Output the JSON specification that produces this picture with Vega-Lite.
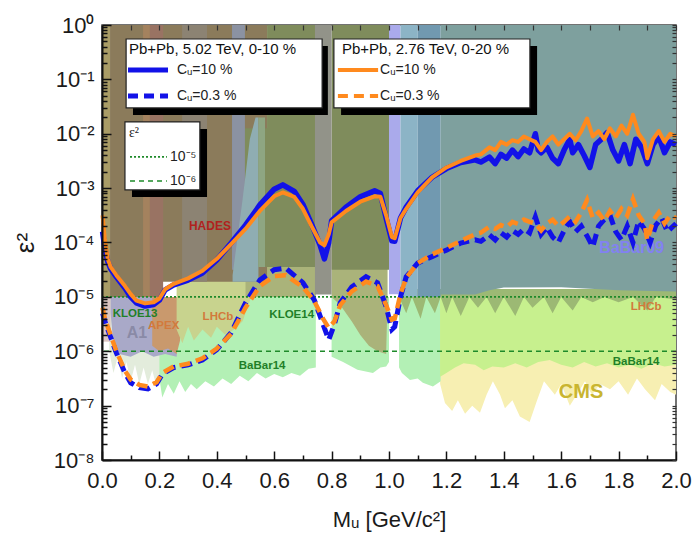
{
"$schema": "https://vega.github.io/schema/vega-lite/v6.json",
"width": 574, "height": 435,
"autosize": {"type": "none"},
"padding": {"left": 102, "top": 25, "right": 20, "bottom": 80},
"background": "white",
"config": {"view": {"stroke": "#444", "strokeWidth": 1.5}, "font": "Liberation Sans"},
"resolve": {"axis": {"x": "independent", "y": "independent"}},
"datasets": {
"reg": [
{"r":"cms","x":1.178,"lo":2.51e-7,"hi":1e-5},{"r":"cms","x":1.195,"lo":1.12e-7,"hi":1e-5},{"r":"cms","x":1.22,"lo":7.94e-8,"hi":1e-5},{"r":"cms","x":1.24,"lo":1.26e-7,"hi":1e-5},{"r":"cms","x":1.265,"lo":7.08e-8,"hi":1e-5},{"r":"cms","x":1.29,"lo":1e-7,"hi":1e-5},{"r":"cms","x":1.317,"lo":7.41e-8,"hi":1e-5},{"r":"cms","x":1.34,"lo":1.58e-7,"hi":1e-5},{"r":"cms","x":1.362,"lo":2.82e-7,"hi":1e-5},{"r":"cms","x":1.387,"lo":1.58e-7,"hi":1e-5},{"r":"cms","x":1.404,"lo":8.91e-8,"hi":1e-5},{"r":"cms","x":1.43,"lo":1.26e-7,"hi":1e-5},{"r":"cms","x":1.456,"lo":6.31e-8,"hi":1e-5},{"r":"cms","x":1.49,"lo":5.01e-8,"hi":1e-5},{"r":"cms","x":1.516,"lo":1.26e-7,"hi":1e-5},{"r":"cms","x":1.54,"lo":2.82e-7,"hi":1e-5},{"r":"cms","x":1.578,"lo":1.58e-7,"hi":1e-5},{"r":"cms","x":1.6,"lo":2.51e-7,"hi":1e-5},{"r":"cms","x":1.63,"lo":1e-7,"hi":1e-5},{"r":"cms","x":1.66,"lo":1.78e-7,"hi":1e-5},{"r":"cms","x":1.683,"lo":2.82e-7,"hi":1e-5},{"r":"cms","x":1.707,"lo":1.58e-7,"hi":1e-5},{"r":"cms","x":1.735,"lo":2.51e-7,"hi":1e-5},{"r":"cms","x":1.77,"lo":2.0e-7,"hi":1e-5},{"r":"cms","x":1.8,"lo":2.82e-7,"hi":1e-5},{"r":"cms","x":1.833,"lo":1.58e-7,"hi":1e-5},{"r":"cms","x":1.864,"lo":3.16e-7,"hi":1e-5},{"r":"cms","x":1.892,"lo":2.0e-7,"hi":1e-5},{"r":"cms","x":1.927,"lo":1.26e-7,"hi":1e-5},{"r":"cms","x":1.95,"lo":2.51e-7,"hi":1e-5},{"r":"cms","x":1.98,"lo":1.78e-7,"hi":1e-5},{"r":"cms","x":2.0,"lo":1.58e-7,"hi":1e-5},
{"r":"pale","x":0.025,"lo":1e-6,"hi":1e-5},{"r":"pale","x":0.04,"lo":3.98e-7,"hi":1e-5},{"r":"pale","x":0.055,"lo":7.94e-7,"hi":1e-5},{"r":"pale","x":0.07,"lo":3.16e-7,"hi":1e-5},{"r":"pale","x":0.085,"lo":6.31e-7,"hi":1e-5},{"r":"pale","x":0.1,"lo":2.82e-7,"hi":1e-5},{"r":"pale","x":0.115,"lo":5.62e-7,"hi":1e-5},{"r":"pale","x":0.13,"lo":2.51e-7,"hi":1e-5},{"r":"pale","x":0.145,"lo":5.01e-7,"hi":1e-5},{"r":"pale","x":0.16,"lo":2.51e-7,"hi":1e-5},{"r":"pale","x":0.175,"lo":4.47e-7,"hi":1e-5},{"r":"pale","x":0.19,"lo":2.24e-7,"hi":1e-5},{"r":"pale","x":0.205,"lo":3.16e-7,"hi":1e-5},
{"r":"bb14a","x":0.2,"lo":3.16e-7,"hi":1e-5},{"r":"bb14a","x":0.21,"lo":1.41e-7,"hi":1e-5},{"r":"bb14a","x":0.23,"lo":2.51e-7,"hi":1e-5},{"r":"bb14a","x":0.25,"lo":1.66e-7,"hi":1e-5},{"r":"bb14a","x":0.27,"lo":2.82e-7,"hi":1e-5},{"r":"bb14a","x":0.29,"lo":1.78e-7,"hi":1e-5},{"r":"bb14a","x":0.31,"lo":2.51e-7,"hi":1e-5},{"r":"bb14a","x":0.33,"lo":2.0e-7,"hi":1e-5},{"r":"bb14a","x":0.36,"lo":2.82e-7,"hi":1e-5},{"r":"bb14a","x":0.39,"lo":2.24e-7,"hi":1e-5},{"r":"bb14a","x":0.42,"lo":3.16e-7,"hi":1e-5},{"r":"bb14a","x":0.45,"lo":2.51e-7,"hi":1e-5},{"r":"bb14a","x":0.48,"lo":3.55e-7,"hi":1e-5},{"r":"bb14a","x":0.51,"lo":2.82e-7,"hi":1e-5},{"r":"bb14a","x":0.54,"lo":3.98e-7,"hi":1e-5},{"r":"bb14a","x":0.57,"lo":3.16e-7,"hi":1e-5},{"r":"bb14a","x":0.6,"lo":3.8e-7,"hi":1e-5},{"r":"bb14a","x":0.63,"lo":3.31e-7,"hi":1e-5},{"r":"bb14a","x":0.66,"lo":3.98e-7,"hi":1e-5},{"r":"bb14a","x":0.69,"lo":3.55e-7,"hi":1e-5},{"r":"bb14a","x":0.72,"lo":4.79e-7,"hi":1e-5},{"r":"bb14a","x":0.745,"lo":5.01e-7,"hi":1e-5},
{"r":"bb14b","x":0.8,"lo":7.94e-7,"hi":1e-5},{"r":"bb14b","x":0.84,"lo":6.31e-7,"hi":1e-5},{"r":"bb14b","x":0.89,"lo":4.57e-7,"hi":1e-5},{"r":"bb14b","x":0.944,"lo":3.98e-7,"hi":1e-5},{"r":"bb14b","x":0.97,"lo":5.01e-7,"hi":1e-5},{"r":"bb14b","x":0.99,"lo":5.25e-7,"hi":1e-5},{"r":"bb14b","x":1.0,"lo":6.31e-7,"hi":1e-5},
{"r":"bb14c","x":1.035,"lo":5.01e-7,"hi":1e-5},{"r":"bb14c","x":1.045,"lo":3.98e-7,"hi":1e-5},{"r":"bb14c","x":1.073,"lo":2.95e-7,"hi":1e-5},{"r":"bb14c","x":1.1,"lo":3.16e-7,"hi":1e-5},{"r":"bb14c","x":1.118,"lo":2.63e-7,"hi":1e-5},{"r":"bb14c","x":1.153,"lo":2.24e-7,"hi":1e-5},{"r":"bb14c","x":1.18,"lo":2.82e-7,"hi":1e-5},
{"r":"lime","x":1.178,"lo":3.39e-7,"hi":1e-5},{"r":"lime","x":1.2,"lo":3.98e-7,"hi":1e-5},{"r":"lime","x":1.23,"lo":5.01e-7,"hi":1e-5},{"r":"lime","x":1.26,"lo":6.03e-7,"hi":1e-5},{"r":"lime","x":1.3,"lo":5.62e-7,"hi":1e-5},{"r":"lime","x":1.33,"lo":4.47e-7,"hi":1e-5},{"r":"lime","x":1.36,"lo":5.25e-7,"hi":1e-5},{"r":"lime","x":1.4,"lo":5.01e-7,"hi":1e-5},{"r":"lime","x":1.44,"lo":6.03e-7,"hi":1e-5},{"r":"lime","x":1.48,"lo":5.01e-7,"hi":1e-5},{"r":"lime","x":1.52,"lo":6.31e-7,"hi":1e-5},{"r":"lime","x":1.56,"lo":6.92e-7,"hi":1e-5},{"r":"lime","x":1.6,"lo":5.62e-7,"hi":1e-5},{"r":"lime","x":1.64,"lo":5.01e-7,"hi":1e-5},{"r":"lime","x":1.68,"lo":6.31e-7,"hi":1e-5},{"r":"lime","x":1.72,"lo":5.25e-7,"hi":1e-5},{"r":"lime","x":1.76,"lo":6.03e-7,"hi":1e-5},{"r":"lime","x":1.8,"lo":5.01e-7,"hi":1e-5},{"r":"lime","x":1.84,"lo":5.62e-7,"hi":1e-5},{"r":"lime","x":1.88,"lo":4.79e-7,"hi":1e-5},{"r":"lime","x":1.92,"lo":6.03e-7,"hi":1e-5},{"r":"lime","x":1.96,"lo":5.25e-7,"hi":1e-5},{"r":"lime","x":2.0,"lo":5.62e-7,"hi":1e-5},
{"r":"pink","x":0,"lo":1.5e-6,"hi":1e-5},{"r":"pink","x":0.03,"lo":1.5e-6,"hi":1e-5},
{"r":"a1","x":0.03,"lo":5.01e-6,"hi":1e-5},{"r":"a1","x":0.04,"lo":1.26e-6,"hi":1e-5},{"r":"a1","x":0.06,"lo":8.91e-7,"hi":1e-5},{"r":"a1","x":0.1,"lo":7.94e-7,"hi":1e-5},{"r":"a1","x":0.14,"lo":1e-6,"hi":1e-5},{"r":"a1","x":0.18,"lo":7.94e-7,"hi":1e-5},{"r":"a1","x":0.22,"lo":8.91e-7,"hi":1e-5},{"r":"a1","x":0.26,"lo":7.94e-7,"hi":1e-5},{"r":"a1","x":0.27,"lo":3.16e-6,"hi":1e-5},
{"r":"apex","x":0.175,"lo":1.26e-6,"hi":1e-5},{"r":"apex","x":0.2,"lo":1e-6,"hi":1e-5},{"r":"apex","x":0.23,"lo":1.12e-6,"hi":1e-5},{"r":"apex","x":0.26,"lo":8.91e-7,"hi":1e-5},{"r":"apex","x":0.272,"lo":1.58e-6,"hi":1e-5},
{"r":"lhcbL","x":0.26,"lo":2.51e-6,"hi":2e-5},{"r":"lhcbL","x":0.28,"lo":1.41e-6,"hi":2e-5},{"r":"lhcbL","x":0.3,"lo":2.82e-6,"hi":2e-5},{"r":"lhcbL","x":0.32,"lo":1.58e-6,"hi":2e-5},{"r":"lhcbL","x":0.35,"lo":2.51e-6,"hi":2e-5},{"r":"lhcbL","x":0.38,"lo":1.78e-6,"hi":2e-5},{"r":"lhcbL","x":0.4,"lo":2.82e-6,"hi":2e-5},{"r":"lhcbL","x":0.43,"lo":2.0e-6,"hi":2e-5},{"r":"lhcbL","x":0.46,"lo":2.51e-6,"hi":2e-5},{"r":"lhcbL","x":0.49,"lo":3.55e-6,"hi":2e-5},{"r":"lhcbL","x":0.52,"lo":1e-5,"hi":2e-5},
{"r":"kloe14a","x":0.5,"lo":1e-5,"hi":1e-4},{"r":"kloe14a","x":0.745,"lo":1e-5,"hi":1e-4},
{"r":"kloe14b","x":0.8,"lo":1e-5,"hi":1e-4},{"r":"kloe14b","x":0.83,"lo":7.08e-6,"hi":1e-4},{"r":"kloe14b","x":0.87,"lo":3.55e-6,"hi":1e-4},{"r":"kloe14b","x":0.9,"lo":2.0e-6,"hi":1e-4},{"r":"kloe14b","x":0.93,"lo":1.26e-6,"hi":1e-4},{"r":"kloe14b","x":0.96,"lo":1e-6,"hi":1e-4},{"r":"kloe14b","x":0.99,"lo":8.91e-7,"hi":1e-4},{"r":"kloe14b","x":0.995,"lo":1e-5,"hi":1e-4},
{"r":"lhcbR","x":1.035,"lo":1e-5,"hi":1.4e-5},{"r":"lhcbR","x":1.06,"lo":5.01e-6,"hi":1.4e-5},{"r":"lhcbR","x":1.08,"lo":1e-5,"hi":1.4e-5},{"r":"lhcbR","x":1.11,"lo":3.98e-6,"hi":1.4e-5},{"r":"lhcbR","x":1.13,"lo":1e-5,"hi":1.4e-5},{"r":"lhcbR","x":1.16,"lo":5.01e-6,"hi":1.4e-5},{"r":"lhcbR","x":1.18,"lo":1e-5,"hi":1.4e-5},{"r":"lhcbR","x":1.2,"lo":5.01e-6,"hi":1.4e-5},{"r":"lhcbR","x":1.22,"lo":1e-5,"hi":1.4e-5},{"r":"lhcbR","x":1.25,"lo":4.47e-6,"hi":1.4e-5},{"r":"lhcbR","x":1.28,"lo":1e-5,"hi":1.4e-5},{"r":"lhcbR","x":1.31,"lo":6.31e-6,"hi":1.4e-5},{"r":"lhcbR","x":1.34,"lo":1e-5,"hi":1.4e-5},{"r":"lhcbR","x":1.37,"lo":5.01e-6,"hi":1.4e-5},{"r":"lhcbR","x":1.4,"lo":1e-5,"hi":1.4e-5},{"r":"lhcbR","x":1.44,"lo":4.47e-6,"hi":1.4e-5},{"r":"lhcbR","x":1.47,"lo":1e-5,"hi":1.4e-5},{"r":"lhcbR","x":1.5,"lo":6.31e-6,"hi":1.4e-5},{"r":"lhcbR","x":1.54,"lo":1e-5,"hi":1.4e-5},{"r":"lhcbR","x":1.57,"lo":5.01e-6,"hi":1.4e-5},{"r":"lhcbR","x":1.6,"lo":1e-5,"hi":1.4e-5},{"r":"lhcbR","x":1.64,"lo":5.62e-6,"hi":1.4e-5},{"r":"lhcbR","x":1.67,"lo":1e-5,"hi":1.4e-5},{"r":"lhcbR","x":1.71,"lo":7.94e-6,"hi":1.4e-5},{"r":"lhcbR","x":1.75,"lo":1e-5,"hi":1.4e-5},{"r":"lhcbR","x":1.8,"lo":7.94e-6,"hi":1.4e-5},{"r":"lhcbR","x":1.85,"lo":1e-5,"hi":1.4e-5},{"r":"lhcbR","x":1.9,"lo":5.62e-6,"hi":1.4e-5},{"r":"lhcbR","x":1.93,"lo":1e-5,"hi":1.4e-5},{"r":"lhcbR","x":2.0,"lo":8.91e-6,"hi":1.4e-5},
{"r":"tstrip","x":0,"lo":1e-5,"hi":1},{"r":"tstrip","x":0.028,"lo":1e-5,"hi":1},
{"r":"tbrown","x":0.028,"lo":1e-5,"hi":1},{"r":"tbrown","x":0.205,"lo":1e-5,"hi":1},{"r":"tbrown","x":0.21,"lo":1.9e-5,"hi":1},{"r":"tbrown","x":0.575,"lo":1.9e-5,"hi":1},
{"r":"torange","x":0.143,"lo":1e-5,"hi":1},{"r":"torange","x":0.167,"lo":1e-5,"hi":1},
{"r":"tred","x":0.167,"lo":1e-5,"hi":1},{"r":"tred","x":0.213,"lo":1e-5,"hi":1},
{"r":"tgray","x":0.279,"lo":1.9e-5,"hi":1},{"r":"tgray","x":0.366,"lo":1.9e-5,"hi":1},
{"r":"tolivea","x":0.498,"lo":3.55e-5,"hi":1.26e-2},{"r":"tolivea","x":0.575,"lo":3.55e-5,"hi":1.26e-2},{"r":"tolivea","x":0.5751,"lo":3.55e-5,"hi":1},{"r":"tolivea","x":0.745,"lo":3.55e-5,"hi":1},
{"r":"toliveb","x":0.8,"lo":3.16e-5,"hi":1},{"r":"toliveb","x":1.0,"lo":3.16e-5,"hi":1},
{"r":"tgblue","x":0.453,"lo":3.16e-5,"hi":1},{"r":"tgblue","x":0.498,"lo":3.16e-5,"hi":1},
{"r":"tcyan","x":0.455,"lo":1.9e-5,"hi":2.51e-5},{"r":"tcyan","x":0.49,"lo":1.9e-5,"hi":6.31e-4},{"r":"tcyan","x":0.515,"lo":1.9e-5,"hi":7.94e-3},{"r":"tcyan","x":0.535,"lo":1.9e-5,"hi":2.0e-2},{"r":"tcyan","x":0.545,"lo":1.9e-5,"hi":2.0e-2},
{"r":"tlgreen","x":0.545,"lo":3.55e-5,"hi":2.0e-2},{"r":"tlgreen","x":0.568,"lo":3.55e-5,"hi":2.0e-2},
{"r":"tgray2","x":0.742,"lo":1.1e-5,"hi":1},{"r":"tgray2","x":0.8,"lo":1.1e-5,"hi":1},
{"r":"tlav","x":1.0,"lo":1.12e-5,"hi":1},{"r":"tlav","x":1.04,"lo":1.12e-5,"hi":1},
{"r":"tlblue","x":1.04,"lo":1e-5,"hi":1},{"r":"tlblue","x":1.1,"lo":1e-5,"hi":1},
{"r":"tblue","x":1.1,"lo":1e-5,"hi":1},{"r":"tblue","x":1.18,"lo":1e-5,"hi":1},
{"r":"tteal","x":1.18,"lo":1.1e-5,"hi":1},{"r":"tteal","x":1.3,"lo":1.1e-5,"hi":1},{"r":"tteal","x":1.35,"lo":1.32e-5,"hi":1},{"r":"tteal","x":1.4,"lo":1.48e-5,"hi":1},{"r":"tteal","x":1.6,"lo":1.51e-5,"hi":1},{"r":"tteal","x":1.7,"lo":1.41e-5,"hi":1},{"r":"tteal","x":1.8,"lo":1.32e-5,"hi":1},{"r":"tteal","x":2.0,"lo":1.26e-5,"hi":1}
],
"cur": [
{"s":"B10","x":0.002,"y":1.58e-4},{"s":"B10","x":0.01,"y":7.94e-5},{"s":"B10","x":0.02,"y":4.47e-5},{"s":"B10","x":0.03,"y":3.31e-5},{"s":"B10","x":0.05,"y":2.34e-5},{"s":"B10","x":0.08,"y":1.45e-5},{"s":"B10","x":0.1,"y":1e-5},{"s":"B10","x":0.12,"y":7.76e-6},{"s":"B10","x":0.15,"y":6.76e-6},{"s":"B10","x":0.18,"y":7.24e-6},{"s":"B10","x":0.2,"y":8.71e-6},{"s":"B10","x":0.22,"y":1.35e-5},{"s":"B10","x":0.25,"y":1.66e-5},{"s":"B10","x":0.3,"y":2.04e-5},{"s":"B10","x":0.35,"y":2.75e-5},{"s":"B10","x":0.4,"y":4.79e-5},{"s":"B10","x":0.45,"y":9.77e-5},{"s":"B10","x":0.5,"y":2.09e-4},{"s":"B10","x":0.55,"y":4.9e-4},{"s":"B10","x":0.6,"y":9.55e-4},{"s":"B10","x":0.63,"y":1.148e-3},{"s":"B10","x":0.67,"y":8.71e-4},{"s":"B10","x":0.7,"y":5.01e-4},{"s":"B10","x":0.73,"y":2.19e-4},{"s":"B10","x":0.76,"y":8.91e-5},{"s":"B10","x":0.775,"y":5.01e-5},{"s":"B10","x":0.79,"y":1e-4},{"s":"B10","x":0.8,"y":2.51e-4},{"s":"B10","x":0.85,"y":4.47e-4},{"s":"B10","x":0.9,"y":6.92e-4},{"s":"B10","x":0.95,"y":8.91e-4},{"s":"B10","x":0.97,"y":7.94e-4},{"s":"B10","x":0.99,"y":2.82e-4},{"s":"B10","x":1.01,"y":1.07e-4},{"s":"B10","x":1.02,"y":1.05e-4},{"s":"B10","x":1.04,"y":2.82e-4},{"s":"B10","x":1.06,"y":4.47e-4},{"s":"B10","x":1.1,"y":8.91e-4},{"s":"B10","x":1.15,"y":1.585e-3},{"s":"B10","x":1.2,"y":2.29e-3},{"s":"B10","x":1.25,"y":2.95e-3},{"s":"B10","x":1.3,"y":3.31e-3},{"s":"B10","x":1.32,"y":3.02e-3},{"s":"B10","x":1.35,"y":3.72e-3},{"s":"B10","x":1.37,"y":2.82e-3},{"s":"B10","x":1.39,"y":4.17e-3},{"s":"B10","x":1.41,"y":3.55e-3},{"s":"B10","x":1.43,"y":5.01e-3},{"s":"B10","x":1.45,"y":3.8e-3},{"s":"B10","x":1.47,"y":5.25e-3},{"s":"B10","x":1.49,"y":4.47e-3},{"s":"B10","x":1.51,"y":1e-2},{"s":"B10","x":1.52,"y":5.01e-3},{"s":"B10","x":1.53,"y":4.47e-3},{"s":"B10","x":1.55,"y":5.62e-3},{"s":"B10","x":1.57,"y":3.55e-3},{"s":"B10","x":1.59,"y":2.82e-3},{"s":"B10","x":1.61,"y":5.01e-3},{"s":"B10","x":1.63,"y":7.94e-3},{"s":"B10","x":1.64,"y":4.47e-3},{"s":"B10","x":1.66,"y":6.31e-3},{"s":"B10","x":1.68,"y":3.98e-3},{"s":"B10","x":1.7,"y":2.4e-3},{"s":"B10","x":1.72,"y":6.31e-3},{"s":"B10","x":1.74,"y":7.94e-3},{"s":"B10","x":1.76,"y":1.05e-2},{"s":"B10","x":1.78,"y":5.01e-3},{"s":"B10","x":1.8,"y":3.16e-3},{"s":"B10","x":1.82,"y":6.31e-3},{"s":"B10","x":1.84,"y":2.82e-3},{"s":"B10","x":1.86,"y":7.94e-3},{"s":"B10","x":1.88,"y":5.62e-3},{"s":"B10","x":1.9,"y":2.82e-3},{"s":"B10","x":1.92,"y":6.31e-3},{"s":"B10","x":1.94,"y":8.91e-3},{"s":"B10","x":1.96,"y":4.47e-3},{"s":"B10","x":1.98,"y":7.08e-3},{"s":"B10","x":2.0,"y":6.31e-3},
{"s":"O10","x":0.002,"y":3.16e-4},{"s":"O10","x":0.01,"y":1.12e-4},{"s":"O10","x":0.02,"y":5.01e-5},{"s":"O10","x":0.03,"y":3.55e-5},{"s":"O10","x":0.05,"y":2.51e-5},{"s":"O10","x":0.08,"y":1.58e-5},{"s":"O10","x":0.1,"y":1.12e-5},{"s":"O10","x":0.12,"y":8.51e-6},{"s":"O10","x":0.15,"y":7.59e-6},{"s":"O10","x":0.18,"y":7.94e-6},{"s":"O10","x":0.2,"y":9.33e-6},{"s":"O10","x":0.22,"y":1.38e-5},{"s":"O10","x":0.25,"y":1.74e-5},{"s":"O10","x":0.3,"y":2.19e-5},{"s":"O10","x":0.35,"y":3.02e-5},{"s":"O10","x":0.4,"y":5.01e-5},{"s":"O10","x":0.45,"y":9.33e-5},{"s":"O10","x":0.5,"y":1.78e-4},{"s":"O10","x":0.55,"y":3.8e-4},{"s":"O10","x":0.6,"y":7.08e-4},{"s":"O10","x":0.63,"y":8.32e-4},{"s":"O10","x":0.67,"y":6.92e-4},{"s":"O10","x":0.7,"y":4.17e-4},{"s":"O10","x":0.73,"y":2.0e-4},{"s":"O10","x":0.76,"y":1e-4},{"s":"O10","x":0.775,"y":8.91e-5},{"s":"O10","x":0.79,"y":1.41e-4},{"s":"O10","x":0.8,"y":2.34e-4},{"s":"O10","x":0.85,"y":3.8e-4},{"s":"O10","x":0.9,"y":5.62e-4},{"s":"O10","x":0.95,"y":7.08e-4},{"s":"O10","x":0.97,"y":6.92e-4},{"s":"O10","x":0.99,"y":3.16e-4},{"s":"O10","x":1.01,"y":1.26e-4},{"s":"O10","x":1.02,"y":1.2e-4},{"s":"O10","x":1.04,"y":2.82e-4},{"s":"O10","x":1.06,"y":4.17e-4},{"s":"O10","x":1.1,"y":8.32e-4},{"s":"O10","x":1.15,"y":1.58e-3},{"s":"O10","x":1.2,"y":2.4e-3},{"s":"O10","x":1.25,"y":3.16e-3},{"s":"O10","x":1.3,"y":3.98e-3},{"s":"O10","x":1.32,"y":4.17e-3},{"s":"O10","x":1.35,"y":5.62e-3},{"s":"O10","x":1.37,"y":5.01e-3},{"s":"O10","x":1.39,"y":7.08e-3},{"s":"O10","x":1.41,"y":6.31e-3},{"s":"O10","x":1.43,"y":7.59e-3},{"s":"O10","x":1.45,"y":7.08e-3},{"s":"O10","x":1.47,"y":8.91e-3},{"s":"O10","x":1.49,"y":7.94e-3},{"s":"O10","x":1.51,"y":7.08e-3},{"s":"O10","x":1.53,"y":5.01e-3},{"s":"O10","x":1.55,"y":7.08e-3},{"s":"O10","x":1.57,"y":8.91e-3},{"s":"O10","x":1.59,"y":6.31e-3},{"s":"O10","x":1.61,"y":7.94e-3},{"s":"O10","x":1.63,"y":1e-2},{"s":"O10","x":1.65,"y":7.59e-3},{"s":"O10","x":1.67,"y":1.12e-2},{"s":"O10","x":1.69,"y":1.91e-2},{"s":"O10","x":1.71,"y":8.91e-3},{"s":"O10","x":1.73,"y":1.12e-2},{"s":"O10","x":1.75,"y":7.94e-3},{"s":"O10","x":1.77,"y":1.26e-2},{"s":"O10","x":1.79,"y":8.91e-3},{"s":"O10","x":1.81,"y":1.41e-2},{"s":"O10","x":1.83,"y":1e-2},{"s":"O10","x":1.85,"y":2.24e-2},{"s":"O10","x":1.87,"y":1e-2},{"s":"O10","x":1.89,"y":7.08e-3},{"s":"O10","x":1.9,"y":3.55e-3},{"s":"O10","x":1.92,"y":7.94e-3},{"s":"O10","x":1.94,"y":1.12e-2},{"s":"O10","x":1.96,"y":7.08e-3},{"s":"O10","x":1.98,"y":1e-2},{"s":"O10","x":2.0,"y":8.91e-3},
{"s":"B03","x":0.002,"y":5.01e-6},{"s":"B03","x":0.01,"y":3.55e-6},{"s":"B03","x":0.03,"y":1.82e-6},{"s":"B03","x":0.05,"y":9.33e-7},{"s":"B03","x":0.08,"y":3.98e-7},{"s":"B03","x":0.1,"y":2.63e-7},{"s":"B03","x":0.13,"y":2.14e-7},{"s":"B03","x":0.16,"y":2.04e-7},{"s":"B03","x":0.19,"y":2.51e-7},{"s":"B03","x":0.21,"y":3.8e-7},{"s":"B03","x":0.25,"y":5.01e-7},{"s":"B03","x":0.3,"y":5.62e-7},{"s":"B03","x":0.35,"y":6.92e-7},{"s":"B03","x":0.4,"y":1.07e-6},{"s":"B03","x":0.45,"y":2.19e-6},{"s":"B03","x":0.5,"y":7.76e-6},{"s":"B03","x":0.55,"y":2.04e-5},{"s":"B03","x":0.6,"y":3.16e-5},{"s":"B03","x":0.64,"y":3.39e-5},{"s":"B03","x":0.7,"y":1.82e-5},{"s":"B03","x":0.74,"y":8.71e-6},{"s":"B03","x":0.77,"y":3.16e-6},{"s":"B03","x":0.79,"y":1.62e-6},{"s":"B03","x":0.81,"y":3.16e-6},{"s":"B03","x":0.83,"y":7.76e-6},{"s":"B03","x":0.87,"y":1.51e-5},{"s":"B03","x":0.92,"y":2.34e-5},{"s":"B03","x":0.96,"y":1.82e-5},{"s":"B03","x":0.99,"y":6.61e-6},{"s":"B03","x":1.01,"y":2.51e-6},{"s":"B03","x":1.02,"y":2.82e-6},{"s":"B03","x":1.04,"y":1e-5},{"s":"B03","x":1.06,"y":2.34e-5},{"s":"B03","x":1.1,"y":4.17e-5},{"s":"B03","x":1.15,"y":5.5e-5},{"s":"B03","x":1.2,"y":7.24e-5},{"s":"B03","x":1.25,"y":9.77e-5},{"s":"B03","x":1.3,"y":1.12e-4},{"s":"B03","x":1.32,"y":1.05e-4},{"s":"B03","x":1.35,"y":1.38e-4},{"s":"B03","x":1.37,"y":1.12e-4},{"s":"B03","x":1.39,"y":1.51e-4},{"s":"B03","x":1.41,"y":1.26e-4},{"s":"B03","x":1.43,"y":1.66e-4},{"s":"B03","x":1.45,"y":1.41e-4},{"s":"B03","x":1.47,"y":1.78e-4},{"s":"B03","x":1.49,"y":1.51e-4},{"s":"B03","x":1.51,"y":2.95e-4},{"s":"B03","x":1.53,"y":1.41e-4},{"s":"B03","x":1.55,"y":1.91e-4},{"s":"B03","x":1.57,"y":1.26e-4},{"s":"B03","x":1.59,"y":1e-4},{"s":"B03","x":1.61,"y":1.66e-4},{"s":"B03","x":1.63,"y":2.4e-4},{"s":"B03","x":1.65,"y":1.58e-4},{"s":"B03","x":1.67,"y":2.0e-4},{"s":"B03","x":1.69,"y":1.32e-4},{"s":"B03","x":1.71,"y":8.32e-5},{"s":"B03","x":1.73,"y":2.0e-4},{"s":"B03","x":1.75,"y":2.63e-4},{"s":"B03","x":1.77,"y":3.16e-4},{"s":"B03","x":1.79,"y":1.58e-4},{"s":"B03","x":1.81,"y":1.12e-4},{"s":"B03","x":1.83,"y":2.0e-4},{"s":"B03","x":1.85,"y":1e-4},{"s":"B03","x":1.87,"y":2.51e-4},{"s":"B03","x":1.89,"y":1.78e-4},{"s":"B03","x":1.91,"y":1e-4},{"s":"B03","x":1.93,"y":2.09e-4},{"s":"B03","x":1.95,"y":2.82e-4},{"s":"B03","x":1.97,"y":1.58e-4},{"s":"B03","x":2.0,"y":2.24e-4},
{"s":"O03","x":0.002,"y":6.31e-6},{"s":"O03","x":0.01,"y":3.98e-6},{"s":"O03","x":0.03,"y":2.0e-6},{"s":"O03","x":0.05,"y":1e-6},{"s":"O03","x":0.08,"y":4.37e-7},{"s":"O03","x":0.1,"y":3.02e-7},{"s":"O03","x":0.13,"y":2.4e-7},{"s":"O03","x":0.16,"y":2.24e-7},{"s":"O03","x":0.19,"y":2.69e-7},{"s":"O03","x":0.21,"y":3.98e-7},{"s":"O03","x":0.25,"y":5.25e-7},{"s":"O03","x":0.3,"y":5.89e-7},{"s":"O03","x":0.35,"y":7.41e-7},{"s":"O03","x":0.4,"y":1.12e-6},{"s":"O03","x":0.45,"y":2.09e-6},{"s":"O03","x":0.5,"y":6.31e-6},{"s":"O03","x":0.55,"y":1.58e-5},{"s":"O03","x":0.6,"y":2.4e-5},{"s":"O03","x":0.64,"y":2.51e-5},{"s":"O03","x":0.7,"y":1.51e-5},{"s":"O03","x":0.74,"y":8.32e-6},{"s":"O03","x":0.77,"y":3.98e-6},{"s":"O03","x":0.79,"y":2.69e-6},{"s":"O03","x":0.81,"y":3.55e-6},{"s":"O03","x":0.83,"y":7.08e-6},{"s":"O03","x":0.87,"y":1.26e-5},{"s":"O03","x":0.92,"y":1.91e-5},{"s":"O03","x":0.96,"y":1.58e-5},{"s":"O03","x":0.99,"y":7.08e-6},{"s":"O03","x":1.01,"y":3.8e-6},{"s":"O03","x":1.02,"y":3.98e-6},{"s":"O03","x":1.04,"y":1.12e-5},{"s":"O03","x":1.06,"y":2.24e-5},{"s":"O03","x":1.1,"y":4.17e-5},{"s":"O03","x":1.15,"y":6.03e-5},{"s":"O03","x":1.2,"y":7.94e-5},{"s":"O03","x":1.25,"y":1.07e-4},{"s":"O03","x":1.3,"y":1.41e-4},{"s":"O03","x":1.32,"y":1.51e-4},{"s":"O03","x":1.35,"y":1.95e-4},{"s":"O03","x":1.37,"y":1.78e-4},{"s":"O03","x":1.39,"y":2.09e-4},{"s":"O03","x":1.41,"y":1.91e-4},{"s":"O03","x":1.43,"y":2.4e-4},{"s":"O03","x":1.45,"y":2.19e-4},{"s":"O03","x":1.47,"y":2.63e-4},{"s":"O03","x":1.49,"y":2.4e-4},{"s":"O03","x":1.51,"y":2.24e-4},{"s":"O03","x":1.53,"y":1.66e-4},{"s":"O03","x":1.55,"y":2.24e-4},{"s":"O03","x":1.57,"y":2.63e-4},{"s":"O03","x":1.59,"y":2.0e-4},{"s":"O03","x":1.61,"y":2.4e-4},{"s":"O03","x":1.63,"y":3.02e-4},{"s":"O03","x":1.65,"y":2.4e-4},{"s":"O03","x":1.67,"y":3.55e-4},{"s":"O03","x":1.69,"y":6.03e-4},{"s":"O03","x":1.71,"y":2.82e-4},{"s":"O03","x":1.73,"y":3.55e-4},{"s":"O03","x":1.75,"y":2.51e-4},{"s":"O03","x":1.77,"y":3.8e-4},{"s":"O03","x":1.79,"y":2.82e-4},{"s":"O03","x":1.81,"y":4.17e-4},{"s":"O03","x":1.83,"y":3.16e-4},{"s":"O03","x":1.85,"y":6.31e-4},{"s":"O03","x":1.87,"y":3.16e-4},{"s":"O03","x":1.89,"y":2.24e-4},{"s":"O03","x":1.9,"y":1.12e-4},{"s":"O03","x":1.92,"y":2.51e-4},{"s":"O03","x":1.94,"y":3.55e-4},{"s":"O03","x":1.96,"y":2.24e-4},{"s":"O03","x":1.98,"y":3.16e-4},{"s":"O03","x":2.0,"y":2.82e-4}
],
"ref": [{"k":"dot","y":1e-5},{"k":"dash","y":1e-6}],
"lab": [
{"t":"HADES","g":"red","x":0.376,"y":2.04e-4},
{"t":"KLOE13","g":"green","x":0.115,"y":4.9e-6},
{"t":"KLOE14","g":"green","x":0.661,"y":4.68e-6},
{"t":"BaBar14","g":"green","x":0.558,"y":5.37e-7},
{"t":"BaBar14","g":"green","x":1.861,"y":6.31e-7},
{"t":"APEX","g":"orange","x":0.215,"y":2.95e-6},
{"t":"LHCb","g":"orange","x":0.404,"y":4.27e-6},
{"t":"LHCb","g":"orange","x":1.896,"y":6.61e-6},
{"t":"A1","g":"a1","x":0.122,"y":2.2e-6},
{"t":"CMS","g":"cms","x":1.669,"y":1.78e-7},
{"t":"BaBar09","g":"babar09","x":1.846,"y":7.94e-5}
],
"box": [
{"b":"s1","x":0.108,"x2":0.787,"y":0.411,"y2":0.0222},
{"b":"s2","x":0.833,"x2":1.516,"y":0.411,"y2":0.0222},
{"b":"s3","x":0.1045,"x2":0.366,"y":1.225e-2,"y2":6.89e-4},
{"b":"w1","x":0.084,"x2":0.767,"y":0.553,"y2":0.0298},
{"b":"w2","x":0.808,"x2":1.491,"y":0.553,"y2":0.0298},
{"b":"w3","x":0.08,"x2":0.341,"y":1.648e-2,"y2":9.27e-4}
],
"leg": [
{"g":"B10","x":0.0906,"y":0.149},{"g":"B10","x":0.23,"y":0.149},
{"g":"B03","x":0.0906,"y":0.0495},{"g":"B03","x":0.23,"y":0.0495},
{"g":"O10","x":0.822,"y":0.149},{"g":"O10","x":0.962,"y":0.149},
{"g":"O03","x":0.822,"y":0.0495},{"g":"O03","x":0.962,"y":0.0495},
{"g":"G5","x":0.0976,"y":3.75e-3},{"g":"G5","x":0.226,"y":3.75e-3},
{"g":"G6","x":0.0976,"y":1.355e-3},{"g":"G6","x":0.226,"y":1.355e-3}
],
"legt": [
{"t":"Pb+Pb, 5.02 TeV, 0-10 %","g":"head","x":0.094,"y":0.362},
{"t":"Pb+Pb, 2.76 TeV, 0-20 %","g":"head","x":0.836,"y":0.362},
{"t":"Cᵤ=10 %","g":"item","x":0.261,"y":0.149},
{"t":"Cᵤ=0.3 %","g":"item","x":0.261,"y":0.0495},
{"t":"Cᵤ=10 %","g":"item","x":0.969,"y":0.149},
{"t":"Cᵤ=0.3 %","g":"item","x":0.969,"y":0.0495},
{"t":"ε²","g":"eps","x":0.094,"y":1.035e-2},
{"t":"10⁻⁵","g":"pow","x":0.237,"y":3.75e-3},
{"t":"10⁻⁶","g":"pow","x":0.237,"y":1.355e-3}
]
},
"layer": [
{"data":{"name":"reg"},"transform":[{"filter":"datum.r=='cms'"}],"mark":{"type":"area","fill":"#f7efb2"},
 "encoding":{
  "x":{"field":"x","type":"quantitative","scale":{"domain":[0,2],"nice":false,"zero":false},
   "axis":{"orient":"bottom","title":"Mᵤ [GeV/c²]","values":[0,0.2,0.4,0.6,0.8,1,1.2,1.4,1.6,1.8,2],
    "format":".1f","tickSize":-9,
    "labelPadding":19,"labelFontSize":22,"labelColor":"#1a1a1a","titleFontSize":22,"titleFontWeight":"normal","titleColor":"#1a1a1a","titlePadding":18,
    "domainColor":"#111","domainWidth":2,"tickColor":"#111","tickWidth":1.5,"grid":false,"zindex":2,"labelFlush":false}},
  "y":{"field":"lo","type":"quantitative","scale":{"type":"log","domain":[1e-8,1],"nice":false},
   "axis":{"orient":"left","title":"ε²","values":[1e-8,1e-7,1e-6,1e-5,1e-4,1e-3,1e-2,0.1,1],
    "labelExpr":"['10⁻⁸','10⁻⁷','10⁻⁶','10⁻⁵','10⁻⁴','10⁻³','10⁻²','10⁻¹','10⁰'][round(log(datum.value)/LN10)+8]",
    "tickSize":-9,
    "labelPadding":17,"labelFontSize":22,"labelColor":"#1a1a1a","titleFontSize":26,"titleFontWeight":"normal","titleColor":"#1a1a1a","titlePadding":15,
    "domainColor":"#111","domainWidth":2,"tickColor":"#111","tickWidth":1.5,"grid":false,"zindex":2,"labelFlush":false}},
  "y2":{"field":"hi"}}},
{"data":{"name":"reg"},"transform":[{"filter":"datum.r=='pale'"}],"mark":{"type":"area","fill":"#e3ecdc"},"encoding":{"x":{"field":"x","type":"quantitative","axis":null},"y":{"field":"lo","type":"quantitative","axis":null},"y2":{"field":"hi"}}},
{"data":{"name":"reg"},"transform":[{"filter":"indexof(['bb14a','bb14b','bb14c'], datum.r) >= 0"}],"mark":{"type":"area","fill":"#b3f0b5"},"encoding":{"x":{"field":"x","type":"quantitative","axis":null},"y":{"field":"lo","type":"quantitative","axis":null},"y2":{"field":"hi"},"detail":{"field":"r"}}},
{"data":{"name":"reg"},"transform":[{"filter":"datum.r=='lime'"}],"mark":{"type":"area","fill":"#c7f08e"},"encoding":{"x":{"field":"x","type":"quantitative","axis":null},"y":{"field":"lo","type":"quantitative","axis":null},"y2":{"field":"hi"}}},
{"data":{"name":"reg"},"transform":[{"filter":"datum.r=='pink'"}],"mark":{"type":"area","fill":"#dcc6c2"},"encoding":{"x":{"field":"x","type":"quantitative","axis":null},"y":{"field":"lo","type":"quantitative","axis":null},"y2":{"field":"hi"}}},
{"data":{"name":"reg"},"transform":[{"filter":"datum.r=='a1'"}],"mark":{"type":"area","fill":"#a9a9c8"},"encoding":{"x":{"field":"x","type":"quantitative","axis":null},"y":{"field":"lo","type":"quantitative","axis":null},"y2":{"field":"hi"}}},
{"data":{"name":"reg"},"transform":[{"filter":"datum.r=='apex'"}],"mark":{"type":"area","fill":"#c9996d"},"encoding":{"x":{"field":"x","type":"quantitative","axis":null},"y":{"field":"lo","type":"quantitative","axis":null},"y2":{"field":"hi"}}},
{"data":{"name":"reg"},"transform":[{"filter":"datum.r=='lhcbL'"}],"mark":{"type":"area","fill":"#c8d38e"},"encoding":{"x":{"field":"x","type":"quantitative","axis":null},"y":{"field":"lo","type":"quantitative","axis":null},"y2":{"field":"hi"}}},
{"data":{"name":"reg"},"transform":[{"filter":"datum.r=='kloe14a' || datum.r=='kloe14b'"}],"mark":{"type":"area","fill":"#aab37a"},"encoding":{"x":{"field":"x","type":"quantitative","axis":null},"y":{"field":"lo","type":"quantitative","axis":null},"y2":{"field":"hi"},"detail":{"field":"r"}}},
{"data":{"name":"reg"},"transform":[{"filter":"datum.r=='lhcbR'"}],"mark":{"type":"area","fill":"#9cb974"},"encoding":{"x":{"field":"x","type":"quantitative","axis":null},"y":{"field":"lo","type":"quantitative","axis":null},"y2":{"field":"hi"}}},
{"data":{"name":"reg"},"transform":[{"filter":"datum.r=='tstrip'"}],"mark":{"type":"area","fill":"#a99c66"},"encoding":{"x":{"field":"x","type":"quantitative","axis":null},"y":{"field":"lo","type":"quantitative","axis":null},"y2":{"field":"hi"}}},
{"data":{"name":"reg"},"transform":[{"filter":"datum.r=='tbrown'"}],"mark":{"type":"area","fill":"#8b7b5b"},"encoding":{"x":{"field":"x","type":"quantitative","axis":null},"y":{"field":"lo","type":"quantitative","axis":null},"y2":{"field":"hi"}}},
{"data":{"name":"reg"},"transform":[{"filter":"datum.r=='torange'"}],"mark":{"type":"area","fill":"#a4825e"},"encoding":{"x":{"field":"x","type":"quantitative","axis":null},"y":{"field":"lo","type":"quantitative","axis":null},"y2":{"field":"hi"}}},
{"data":{"name":"reg"},"transform":[{"filter":"datum.r=='tred'"}],"mark":{"type":"area","fill":"#997363"},"encoding":{"x":{"field":"x","type":"quantitative","axis":null},"y":{"field":"lo","type":"quantitative","axis":null},"y2":{"field":"hi"}}},
{"data":{"name":"reg"},"transform":[{"filter":"datum.r=='tgray'"}],"mark":{"type":"area","fill":"#8c8373"},"encoding":{"x":{"field":"x","type":"quantitative","axis":null},"y":{"field":"lo","type":"quantitative","axis":null},"y2":{"field":"hi"}}},
{"data":{"name":"reg"},"transform":[{"filter":"datum.r=='tolivea' || datum.r=='toliveb'"}],"mark":{"type":"area","fill":"#7f8c5c"},"encoding":{"x":{"field":"x","type":"quantitative","axis":null},"y":{"field":"lo","type":"quantitative","axis":null},"y2":{"field":"hi"},"detail":{"field":"r"}}},
{"data":{"name":"reg"},"transform":[{"filter":"datum.r=='tgblue'"}],"mark":{"type":"area","fill":"#8b92a2"},"encoding":{"x":{"field":"x","type":"quantitative","axis":null},"y":{"field":"lo","type":"quantitative","axis":null},"y2":{"field":"hi"}}},
{"data":{"name":"reg"},"transform":[{"filter":"datum.r=='tcyan'"}],"mark":{"type":"area","fill":"#8fadb2"},"encoding":{"x":{"field":"x","type":"quantitative","axis":null},"y":{"field":"lo","type":"quantitative","axis":null},"y2":{"field":"hi"}}},
{"data":{"name":"reg"},"transform":[{"filter":"datum.r=='tlgreen'"}],"mark":{"type":"area","fill":"#8ea682"},"encoding":{"x":{"field":"x","type":"quantitative","axis":null},"y":{"field":"lo","type":"quantitative","axis":null},"y2":{"field":"hi"}}},
{"data":{"name":"reg"},"transform":[{"filter":"datum.r=='tgray2'"}],"mark":{"type":"area","fill":"#929389"},"encoding":{"x":{"field":"x","type":"quantitative","axis":null},"y":{"field":"lo","type":"quantitative","axis":null},"y2":{"field":"hi"}}},
{"data":{"name":"reg"},"transform":[{"filter":"datum.r=='tlav'"}],"mark":{"type":"area","fill":"#aaaaeb"},"encoding":{"x":{"field":"x","type":"quantitative","axis":null},"y":{"field":"lo","type":"quantitative","axis":null},"y2":{"field":"hi"}}},
{"data":{"name":"reg"},"transform":[{"filter":"datum.r=='tlblue'"}],"mark":{"type":"area","fill":"#8cb4c6"},"encoding":{"x":{"field":"x","type":"quantitative","axis":null},"y":{"field":"lo","type":"quantitative","axis":null},"y2":{"field":"hi"}}},
{"data":{"name":"reg"},"transform":[{"filter":"datum.r=='tblue'"}],"mark":{"type":"area","fill":"#7199b0"},"encoding":{"x":{"field":"x","type":"quantitative","axis":null},"y":{"field":"lo","type":"quantitative","axis":null},"y2":{"field":"hi"}}},
{"data":{"name":"reg"},"transform":[{"filter":"datum.r=='tteal'"}],"mark":{"type":"area","fill":"#7ea09e"},"encoding":{"x":{"field":"x","type":"quantitative","axis":null},"y":{"field":"lo","type":"quantitative","axis":null},"y2":{"field":"hi"}}},
{"data":{"name":"ref"},"transform":[{"filter":"datum.k=='dot'"}],"mark":{"type":"rule","stroke":"#1e8a2a","strokeWidth":1.6,"strokeDash":[2,2]},"encoding":{"y":{"field":"y","type":"quantitative","axis":null}}},
{"data":{"name":"ref"},"transform":[{"filter":"datum.k=='dash'"}],"mark":{"type":"rule","stroke":"#1e8a2a","strokeWidth":1.6,"strokeDash":[5,4]},"encoding":{"y":{"field":"y","type":"quantitative","axis":null}}},
{"data":{"name":"lab"},"transform":[{"filter":"datum.g=='red'"}],"mark":{"type":"text","fill":"#b0221e","fontSize":12,"fontWeight":"bold","align":"center","baseline":"middle"},"encoding":{"x":{"field":"x","type":"quantitative","axis":null},"y":{"field":"y","type":"quantitative","axis":null},"text":{"field":"t"}}},
{"data":{"name":"lab"},"transform":[{"filter":"datum.g=='green'"}],"mark":{"type":"text","fill":"#1f7f28","fontSize":11.5,"fontWeight":"bold","align":"center","baseline":"middle"},"encoding":{"x":{"field":"x","type":"quantitative","axis":null},"y":{"field":"y","type":"quantitative","axis":null},"text":{"field":"t"}}},
{"data":{"name":"lab"},"transform":[{"filter":"datum.g=='orange'"}],"mark":{"type":"text","fill":"#d27a3c","fontSize":11.5,"fontWeight":"bold","align":"center","baseline":"middle"},"encoding":{"x":{"field":"x","type":"quantitative","axis":null},"y":{"field":"y","type":"quantitative","axis":null},"text":{"field":"t"}}},
{"data":{"name":"lab"},"transform":[{"filter":"datum.g=='a1'"}],"mark":{"type":"text","fill":"#8a8aa6","fontSize":16,"fontWeight":"bold","align":"center","baseline":"middle"},"encoding":{"x":{"field":"x","type":"quantitative","axis":null},"y":{"field":"y","type":"quantitative","axis":null},"text":{"field":"t"}}},
{"data":{"name":"lab"},"transform":[{"filter":"datum.g=='cms'"}],"mark":{"type":"text","fill":"#c9b530","fontSize":20,"fontWeight":"bold","align":"center","baseline":"middle"},"encoding":{"x":{"field":"x","type":"quantitative","axis":null},"y":{"field":"y","type":"quantitative","axis":null},"text":{"field":"t"}}},
{"data":{"name":"lab"},"transform":[{"filter":"datum.g=='babar09'"}],"mark":{"type":"text","fill":"#8282f0","fontSize":16,"fontWeight":"bold","align":"center","baseline":"middle"},"encoding":{"x":{"field":"x","type":"quantitative","axis":null},"y":{"field":"y","type":"quantitative","axis":null},"text":{"field":"t"}}},
{"data":{"name":"cur"},"transform":[{"filter":"datum.s=='B10'"}],"mark":{"type":"line","stroke":"#1212e8","strokeWidth":5.5,"strokeJoin":"round"},"encoding":{"x":{"field":"x","type":"quantitative","axis":null},"y":{"field":"y","type":"quantitative","axis":null}}},
{"data":{"name":"cur"},"transform":[{"filter":"datum.s=='O10'"}],"mark":{"type":"line","stroke":"#ff8a1e","strokeWidth":4,"strokeJoin":"round"},"encoding":{"x":{"field":"x","type":"quantitative","axis":null},"y":{"field":"y","type":"quantitative","axis":null}}},
{"data":{"name":"cur"},"transform":[{"filter":"datum.s=='B03'"}],"mark":{"type":"line","stroke":"#1212e8","strokeWidth":5,"strokeDash":[11,6]},"encoding":{"x":{"field":"x","type":"quantitative","axis":null},"y":{"field":"y","type":"quantitative","axis":null}}},
{"data":{"name":"cur"},"transform":[{"filter":"datum.s=='O03'"}],"mark":{"type":"line","stroke":"#ff8a1e","strokeWidth":4.5,"strokeDash":[11,6]},"encoding":{"x":{"field":"x","type":"quantitative","axis":null},"y":{"field":"y","type":"quantitative","axis":null}}},
{"data":{"name":"box"},"transform":[{"filter":"datum.b[0]=='s'"}],"mark":{"type":"rect","fill":"#000"},"encoding":{"x":{"field":"x","type":"quantitative","axis":null},"x2":{"field":"x2"},"y":{"field":"y","type":"quantitative","axis":null},"y2":{"field":"y2"}}},
{"data":{"name":"box"},"transform":[{"filter":"datum.b[0]=='w'"}],"mark":{"type":"rect","fill":"#fff","stroke":"#222","strokeWidth":1.2},"encoding":{"x":{"field":"x","type":"quantitative","axis":null},"x2":{"field":"x2"},"y":{"field":"y","type":"quantitative","axis":null},"y2":{"field":"y2"}}},
{"data":{"name":"leg"},"transform":[{"filter":"datum.g=='B10'"}],"mark":{"type":"line","stroke":"#1212e8","strokeWidth":5},"encoding":{"x":{"field":"x","type":"quantitative","axis":null},"y":{"field":"y","type":"quantitative","axis":null}}},
{"data":{"name":"leg"},"transform":[{"filter":"datum.g=='B03'"}],"mark":{"type":"line","stroke":"#1212e8","strokeWidth":5,"strokeDash":[10,6]},"encoding":{"x":{"field":"x","type":"quantitative","axis":null},"y":{"field":"y","type":"quantitative","axis":null}}},
{"data":{"name":"leg"},"transform":[{"filter":"datum.g=='O10'"}],"mark":{"type":"line","stroke":"#ff8a1e","strokeWidth":4},"encoding":{"x":{"field":"x","type":"quantitative","axis":null},"y":{"field":"y","type":"quantitative","axis":null}}},
{"data":{"name":"leg"},"transform":[{"filter":"datum.g=='O03'"}],"mark":{"type":"line","stroke":"#ff8a1e","strokeWidth":4,"strokeDash":[10,6]},"encoding":{"x":{"field":"x","type":"quantitative","axis":null},"y":{"field":"y","type":"quantitative","axis":null}}},
{"data":{"name":"leg"},"transform":[{"filter":"datum.g=='G5'"}],"mark":{"type":"line","stroke":"#1e8a2a","strokeWidth":1.6,"strokeDash":[2,2]},"encoding":{"x":{"field":"x","type":"quantitative","axis":null},"y":{"field":"y","type":"quantitative","axis":null}}},
{"data":{"name":"leg"},"transform":[{"filter":"datum.g=='G6'"}],"mark":{"type":"line","stroke":"#1e8a2a","strokeWidth":1.6,"strokeDash":[5,4]},"encoding":{"x":{"field":"x","type":"quantitative","axis":null},"y":{"field":"y","type":"quantitative","axis":null}}},
{"data":{"name":"legt"},"transform":[{"filter":"datum.g=='head'"}],"mark":{"type":"text","fill":"#111","fontSize":15,"align":"left","baseline":"middle"},"encoding":{"x":{"field":"x","type":"quantitative","axis":null},"y":{"field":"y","type":"quantitative","axis":null},"text":{"field":"t"}}},
{"data":{"name":"legt"},"transform":[{"filter":"datum.g=='item'"}],"mark":{"type":"text","fill":"#222","fontSize":14,"align":"left","baseline":"middle"},"encoding":{"x":{"field":"x","type":"quantitative","axis":null},"y":{"field":"y","type":"quantitative","axis":null},"text":{"field":"t"}}},
{"data":{"name":"legt"},"transform":[{"filter":"datum.g=='eps'"}],"mark":{"type":"text","fill":"#222","fontSize":14,"font":"Liberation Serif","align":"left","baseline":"middle"},"encoding":{"x":{"field":"x","type":"quantitative","axis":null},"y":{"field":"y","type":"quantitative","axis":null},"text":{"field":"t"}}},
{"data":{"name":"legt"},"transform":[{"filter":"datum.g=='pow'"}],"mark":{"type":"text","fill":"#222","fontSize":14,"align":"left","baseline":"middle"},"encoding":{"x":{"field":"x","type":"quantitative","axis":null},"y":{"field":"y","type":"quantitative","axis":null},"text":{"field":"t"}}},
{"data":{"name":"cur"},"mark":{"type":"point","opacity":0},"encoding":{
  "x":{"field":"x","type":"quantitative","axis":{"orient":"bottom","values":[0.1,0.3,0.5,0.7,0.9,1.1,1.3,1.5,1.7,1.9],"labels":false,"domain":false,"title":null,"tickSize":-5,"tickColor":"#111","tickWidth":1.5,"grid":false,"zindex":2}},
  "y":{"field":"y","type":"quantitative","axis":{"orient":"left","values":[2e-8,3e-8,4e-8,5e-8,6e-8,7e-8,8e-8,9e-8,2e-7,3e-7,4e-7,5e-7,6e-7,7e-7,8e-7,9e-7,2e-6,3e-6,4e-6,5e-6,6e-6,7e-6,8e-6,9e-6,2e-5,3e-5,4e-5,5e-5,6e-5,7e-5,8e-5,9e-5,2e-4,3e-4,4e-4,5e-4,6e-4,7e-4,8e-4,9e-4,2e-3,3e-3,4e-3,5e-3,6e-3,7e-3,8e-3,9e-3,2e-2,3e-2,4e-2,5e-2,6e-2,7e-2,8e-2,9e-2,0.2,0.3,0.4,0.5,0.6,0.7,0.8,0.9],"labels":false,"domain":false,"title":null,"tickSize":-5,"tickColor":"#111","tickWidth":1.5,"grid":false,"zindex":2}}}},
{"data":{"name":"cur"},"mark":{"type":"point","opacity":0},"encoding":{
  "x":{"field":"x","type":"quantitative","axis":{"orient":"top","values":[0,0.1,0.2,0.3,0.4,0.5,0.6,0.7,0.8,0.9,1,1.1,1.2,1.3,1.4,1.5,1.6,1.7,1.8,1.9,2],"labels":false,"domain":false,"title":null,"tickSize":-5,"tickColor":"#333","tickWidth":1.2,"grid":false,"zindex":2}},
  "y":{"field":"y","type":"quantitative","axis":{"orient":"right","values":[1e-8,2e-8,3e-8,4e-8,5e-8,6e-8,7e-8,8e-8,9e-8,1e-7,2e-7,3e-7,4e-7,5e-7,6e-7,7e-7,8e-7,9e-7,1e-6,2e-6,3e-6,4e-6,5e-6,6e-6,7e-6,8e-6,9e-6,1e-5,2e-5,3e-5,4e-5,5e-5,6e-5,7e-5,8e-5,9e-5,1e-4,2e-4,3e-4,4e-4,5e-4,6e-4,7e-4,8e-4,9e-4,1e-3,2e-3,3e-3,4e-3,5e-3,6e-3,7e-3,8e-3,9e-3,1e-2,2e-2,3e-2,4e-2,5e-2,6e-2,7e-2,8e-2,9e-2,0.1,0.2,0.3,0.4,0.5,0.6,0.7,0.8,0.9,1],"labels":false,"domain":false,"title":null,"tickSize":-4,"tickColor":"#333","tickWidth":1.2,"grid":false,"zindex":2}}}}
]
}
